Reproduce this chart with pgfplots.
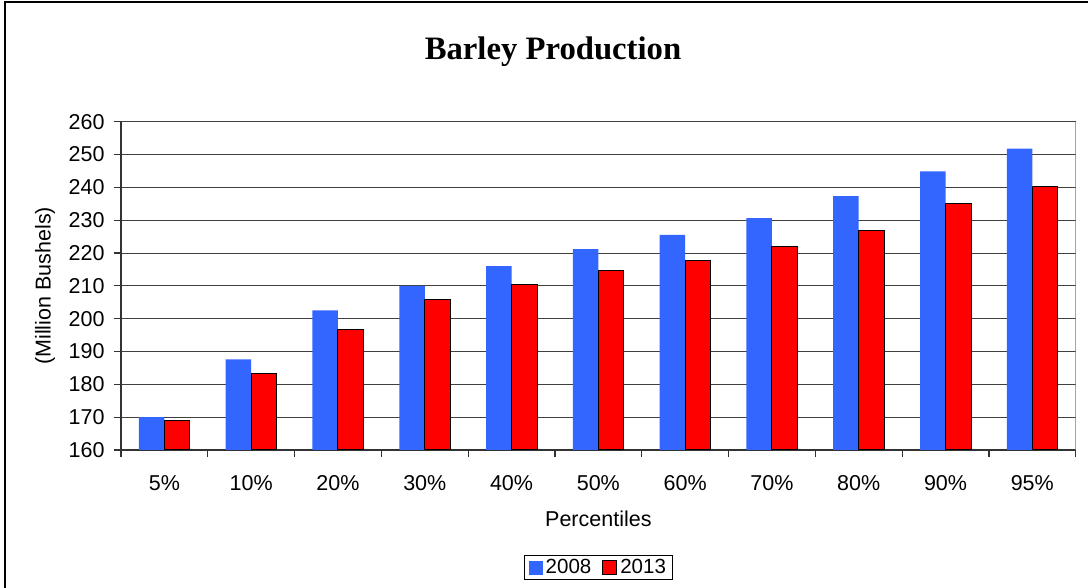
\documentclass[border=0pt]{standalone}
\usepackage{fontspec}
\setmainfont{Liberation Sans}
\newfontfamily\titlefont{Liberation Serif}
\usepackage{pgfplots}
\pgfplotsset{compat=1.18}

\definecolor{barblue}{HTML}{3366FF}
\definecolor{barred}{HTML}{FF0000}
\newcommand\tkfont{\fontsize{21.5pt}{25pt}\selectfont}
\newcommand\lgfont{\fontsize{20.5pt}{24pt}\selectfont}

\begin{document}
\begin{tikzpicture}
\begin{axis}[
    at={(0pt,0pt)}, anchor=south west,
    scale only axis,
    width=954.7pt, height=328.3pt,
    ybar=0pt, bar width=25.5pt,
    xmin=-0.5, xmax=10.5,
    ymin=160, ymax=260,
    xtick={0,...,10},
    xticklabels={5\%,10\%,20\%,30\%,40\%,50\%,60\%,70\%,80\%,90\%,95\%},
    minor xtick={-0.5,0.5,...,10.5},
    ytick={160,170,...,260},
    axis x line*=bottom, axis y line*=left,
    axis line style={black!80, line width=1.2pt},
    tick align=outside,
    major tick length=7pt, minor tick length=7pt,
    major x tick style={draw=none},
    minor x tick style={black!80, line width=1.2pt},
    ytick style={black!80, line width=1.2pt},
    ymajorgrids,
    major grid style={black!75, line width=1pt},
    /pgf/number format/assume math mode=true,
    ticklabel style={font=\tkfont},
    xticklabel style={yshift=-15pt},
    yticklabel style={xshift=-6pt},
    title={Barley Production},
    title style={font=\titlefont\bfseries\fontsize{32.7pt}{38pt}\selectfont,
        at={(axis description cs:0.4525,1.172)}, anchor=base},
    xlabel={Percentiles},
    xlabel style={font=\tkfont, at={(axis description cs:0.5,-0.2345)}, anchor=base},
    ylabel={(Million Bushels)},
    ylabel style={font=\tkfont, at={(axis description cs:-0.0796,0.5)}, anchor=center},
    legend columns=2,
    legend style={at={(axis description cs:0.5,-0.358)}, anchor=center,
        draw=black, line width=0.8pt, font=\lgfont, inner xsep=4pt,
        /tikz/every odd column/.append style={column sep=1pt},
        /tikz/every even column/.append style={column sep=9pt}},
]
\addplot[fill=barblue, draw=none,
    legend image code/.code={\fill[barblue] (0pt,-7pt) rectangle (14pt,7pt);}]
    coordinates {(0,170.0) (1,187.6) (2,202.5) (3,210.0) (4,216.0) (5,221.2)
                 (6,225.5) (7,230.6) (8,237.3) (9,244.9) (10,251.8)};
\addlegendentry{2008}
\addplot[fill=barred, draw=black, line width=1pt,
    legend image code/.code={\draw[fill=barred, line width=1pt] (0pt,-7pt) rectangle (14pt,7pt);}]
    coordinates {(0,168.9) (1,183.4) (2,196.8) (3,205.7) (4,210.3) (5,214.8)
                 (6,217.7) (7,222.1) (8,226.8) (9,235.0) (10,240.4)};
\addlegendentry{2013}
\draw[black!55, line width=1.2pt] (rel axis cs:1,0) -- (rel axis cs:1,1);
\end{axis}
\draw[black, line width=1.5pt] (-116pt,-140pt) -- (-116pt,448pt) -- (970pt,448pt);
\pgfresetboundingbox
\path[use as bounding box] (-121pt,-138pt) rectangle (967pt,450pt);
\end{tikzpicture}
\end{document}
